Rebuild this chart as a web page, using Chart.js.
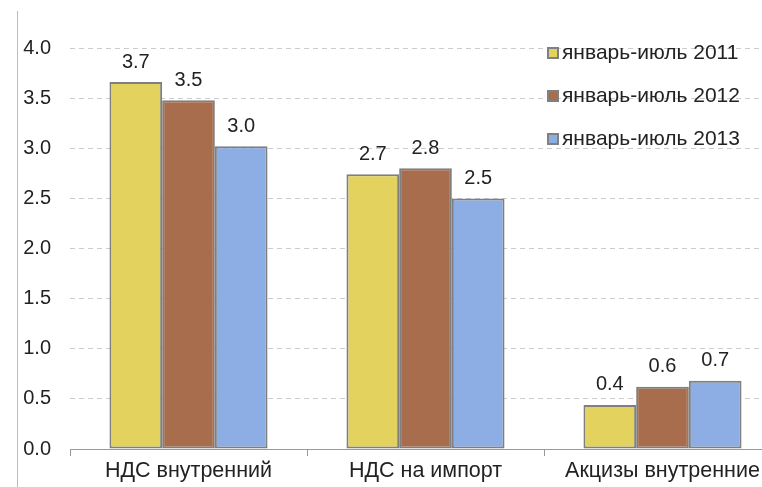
<!DOCTYPE html>
<html>
<head>
<meta charset="utf-8">
<script src="https://cdn.jsdelivr.net/npm/chart.js@4/dist/chart.umd.min.js"></script>
<style>
  html, body { margin: 0; padding: 0; background: #fff; overflow: hidden; }
  #wrap { width: 762px; height: 487px; overflow: hidden; position: relative; }
  canvas { display: block; }
</style>
</head>
<body>
<div id="wrap"><canvas id="c" width="790" height="487" style="width:790px;height:487px"></canvas></div>
<script>
// Tax revenue categories
const categories = ['НДС внутренний', 'НДС на импорт', 'Акцизы внутренние'];

// Series: January–July of each year
const seriesNames = ['январь-июль 2011', 'январь-июль 2012', 'январь-июль 2013'];
const values2011 = [3.66, 2.74, 0.44];
const values2012 = [3.48, 2.80, 0.62];
const values2013 = [3.02, 2.50, 0.68];

// Y axis range and step
const yMin = 0;
const yMax = 4;
const yStep = 0.5;

const colors = ['#E3D35E', '#A86D4D', '#8DADE5'];
const FONT = '"Liberation Sans", Arial, sans-serif';
const TEXT = '#222222';

// Value labels above each bar
const valueLabels = {
  id: 'valueLabels',
  afterDatasetsDraw(chart) {
    const ctx = chart.ctx;
    ctx.save();
    ctx.font = '20px ' + FONT;
    ctx.fillStyle = TEXT;
    ctx.textAlign = 'center';
    ctx.textBaseline = 'middle';
    chart.data.datasets.forEach((ds, i) => {
      chart.getDatasetMeta(i).data.forEach((bar, j) => {
        ctx.fillText(ds.data[j].toFixed(1), bar.x, bar.y - 20);
      });
    });
    ctx.restore();
  }
};

// Legend drawn inside the plot, top right
const insideLegend = {
  id: 'insideLegend',
  afterDraw(chart) {
    const ctx = chart.ctx;
    const top = chart.chartArea.top + 5;
    ctx.save();
    ctx.font = '21px ' + FONT;
    ctx.textAlign = 'left';
    ctx.textBaseline = 'middle';
    chart.data.datasets.forEach((ds, i) => {
      const y = top + i * 43;
      ctx.fillStyle = ds.backgroundColor;
      ctx.fillRect(548, y - 5, 10, 10);
      ctx.strokeStyle = '#808080';
      ctx.lineWidth = 2;
      ctx.strokeRect(548, y - 5, 10, 10);
      ctx.fillStyle = TEXT;
      ctx.fillText(ds.label, 562, y);
    });
    ctx.restore();
  }
};

// Thin frame line on the left edge
const frameLine = {
  id: 'frameLine',
  beforeDraw(chart) {
    const ctx = chart.ctx;
    ctx.save();
    ctx.strokeStyle = '#bdbdbd';
    ctx.lineWidth = 1;
    ctx.beginPath();
    ctx.moveTo(17.5, 11);
    ctx.lineTo(17.5, chart.height);
    ctx.stroke();
    ctx.restore();
  }
};

const seriesValues = [values2011, values2012, values2013];

new Chart(document.getElementById('c'), {
  type: 'bar',
  data: {
    labels: categories,
    datasets: seriesNames.map((name, i) => ({
      label: name,
      data: seriesValues[i],
      backgroundColor: colors[i],
      borderColor: '#7f7f7f',
      borderWidth: 2,
      borderSkipped: false,
      categoryPercentage: 0.667,
      barPercentage: 1.0
    }))
  },
  options: {
    responsive: false,
    devicePixelRatio: 1,
    animation: false,
    layout: { padding: { top: 48, right: 9, left: 0, bottom: 0 } },
    plugins: {
      legend: { display: false },
      tooltip: { enabled: false }
    },
    scales: {
      x: {
        offset: true,
        grid: {
          offset: true,
          drawOnChartArea: false,
          drawTicks: true,
          tickLength: 7,
          color: '#999999'
        },
        border: { display: true, color: '#999999', width: 1 },
        ticks: {
          font: { family: FONT, size: 21.5 },
          color: TEXT,
          padding: 2,
          maxRotation: 0,
          autoSkip: false
        },
        afterFit(scale) { scale.height = 38; }
      },
      y: {
        min: yMin,
        max: yMax,
        ticks: {
          stepSize: yStep,
          font: { family: FONT, size: 20 },
          color: TEXT,
          padding: 19,
          callback: v => v.toFixed(1)
        },
        grid: {
          drawTicks: false,
          color: '#cccccc',
          lineWidth: 1
        },
        border: { display: false, dash: [5, 4] },
        afterFit(scale) { scale.width = 70; }
      }
    }
  },
  plugins: [valueLabels, insideLegend, frameLine]
});
</script>
</body>
</html>
